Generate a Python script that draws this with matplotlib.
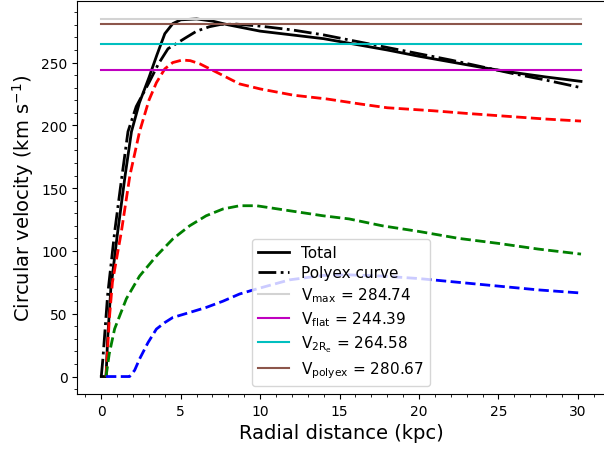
import matplotlib
matplotlib.use("Agg")
import matplotlib.pyplot as plt

# Total rotation curve
r_total = [0, 0.3, 0.4, 0.6, 1.0, 1.5, 1.9, 2.4, 3.0, 3.5, 4.0, 4.5, 5.0, 6.0, 7.0, 8.0,
           10.0, 12.0, 14.0, 16.0, 18.0, 20.0, 22.0, 24.0, 26.0, 28.0, 30.2]
v_total = [0, 0, 30, 70, 112, 160, 195, 218, 238, 256, 273, 281, 284, 284.7, 283, 280,
           275, 272, 269, 264.5, 260, 255, 250.5, 246, 242, 238.5, 235]

# Polyex fit
r_poly = [0, 0.1, 0.4, 0.84, 1.2, 1.68, 2.2, 3.0, 3.6, 4.2, 5.35, 6.0, 6.8, 7.5, 8.5,
          10, 12, 14, 16, 18, 20, 22, 24, 26, 28, 30.2]
v_poly = [0, 14, 65, 115, 150, 195, 215, 234, 249, 261, 270, 275, 278.5, 280.3, 280.6,
          279, 276, 272, 267, 262, 257, 252, 246.5, 241, 236, 230]

# Component curves
r_red = [0.3, 0.5, 0.7, 1.26, 1.8, 2.41, 3.0, 3.47, 4.0, 4.5, 5.1, 5.6, 6.2, 7.46, 8.7,
         10, 12.1, 14.2, 16.3, 18, 20.9, 23, 25.1, 28, 30.2]
v_red = [0, 45, 75, 115, 160, 195, 220, 234, 245, 250, 252, 251.5, 249, 241, 233,
         229, 224, 221, 217, 214, 211.6, 209.5, 207.6, 205, 203.4]

r_green = [0.3, 0.5, 0.84, 1.58, 2.41, 3.47, 4.5, 5.56, 6.6, 7.66, 8.71, 9.77, 11.86,
           13.96, 15.6, 17.7, 20, 22.5, 25, 27.5, 30.2]
v_green = [0, 18, 38, 62, 80, 96, 109.5, 120, 128, 133.4, 136, 136, 132,
           128, 125.5, 120, 115.5, 110, 106, 101.5, 97.5]

r_blue = [0.3, 1.0, 1.78, 2.1, 2.41, 2.94, 3.47, 4.0, 4.5, 5.56, 6.6, 7.66, 8.7, 9.77,
          11.86, 13.96, 15.5, 17.7, 20, 22.5, 25, 27.5, 30.2]
v_blue = [0, 0, 0, 5, 14, 27, 37.8, 43, 47, 51, 55, 60, 65.7, 69.7,
          77, 80.5, 81, 80, 78, 75, 72, 69, 66.5]

# Characteristic velocities
h_names = ["max", "flat", "2R_e", "polyex"]
h_values = [284.74, 244.39, 264.58, 280.67]
h_colors = ["lightgrey", "m", "c", "tab:brown"]
r_span = [0, 30.2]

fig = plt.figure(figsize=(6.04, 4.52), dpi=100)
ax = fig.add_axes([77.3 / 604, 57 / 452, (605 - 77.3) / 604, 393 / 452])

ax.plot(r_total, v_total, "k-", lw=2, label="Total")
ax.plot(r_poly, v_poly, "k-.", lw=2, label="Polyex curve")
ax.plot(r_red, v_red, "r--", lw=2)
ax.plot(r_green, v_green, "g--", lw=2)
ax.plot(r_blue, v_blue, "b--", lw=2)

for name, val, col in zip(h_names, h_values, h_colors):
    ax.plot(r_span, [val, val], color=col, lw=1.5,
            label=r"V$_{\mathrm{" + name + r"}}$ = " + f"{val:.2f}")

ax.set_xlim(-1.51, 31.71)
ax.set_ylim(-13.9, 299.0)
ax.set_xticks([0, 5, 10, 15, 20, 25, 30])
ax.set_yticks([0, 50, 100, 150, 200, 250])
ax.minorticks_on()
ax.tick_params(labelsize=10)
ax.set_xlabel("Radial distance (kpc)", fontsize=14)
ax.set_ylabel(r"Circular velocity (km s$^{-1}$)", fontsize=14)
ax.legend(loc="lower center", fontsize=11, labelspacing=0.35)

fig.savefig("out.png", dpi=100)
